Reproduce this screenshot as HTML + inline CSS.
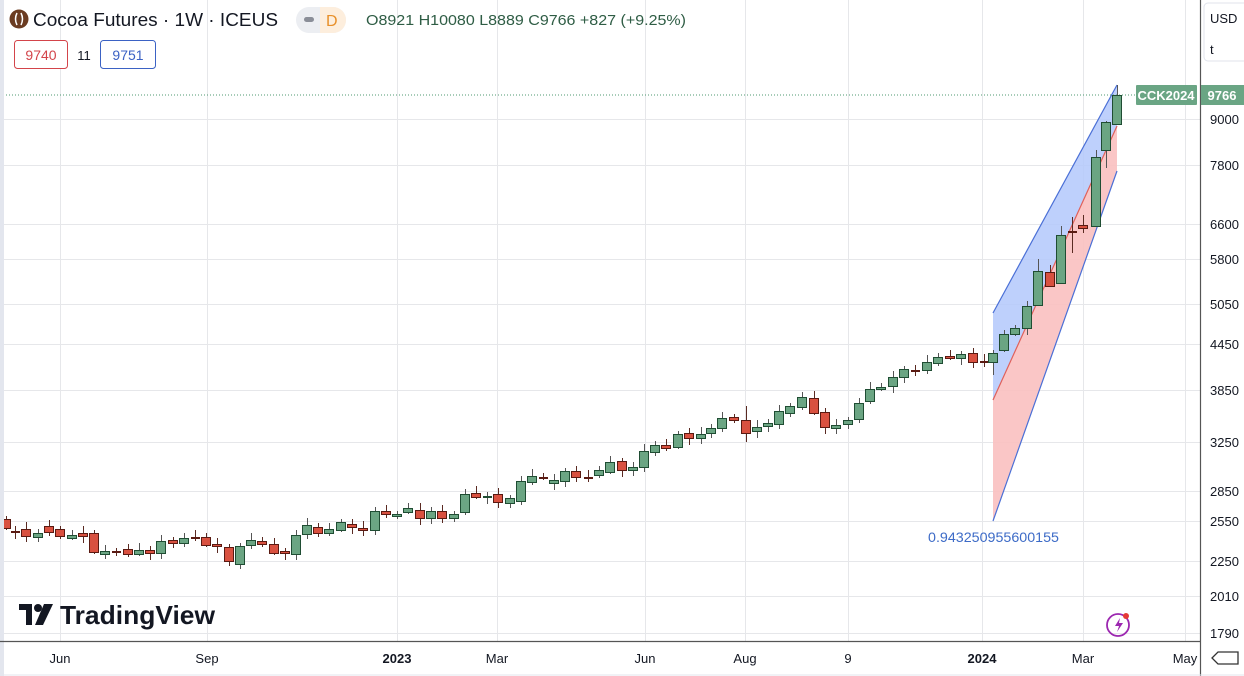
<!DOCTYPE html>
<html><head><meta charset="utf-8"><style>
html,body{margin:0;padding:0;background:#fff;}
body{width:1244px;height:676px;overflow:hidden;position:relative;font-family:"Liberation Sans",sans-serif;}
</style></head><body>
<svg id="s" width="1244" height="676" xmlns="http://www.w3.org/2000/svg" style="position:absolute;left:0;top:0">
<rect width="1244" height="676" fill="#fff"/>
<g id="grid" stroke="#e6e7ea" stroke-width="1"></g>
<polygon points="993,313 1117,85 1117,126 993,400" fill="#b3c8fb" opacity="0.85"/>
<polygon points="993,400 1117,126 1117,171 993,521" fill="#f9c0c0" opacity="0.9"/>
<line x1="993" y1="313" x2="1117" y2="85" stroke="#4a6fd6" stroke-width="1.2"/>
<line x1="993" y1="400" x2="1117" y2="126" stroke="#e0605a" stroke-width="1.2"/>
<line x1="993" y1="521" x2="1117" y2="171" stroke="#4a6fd6" stroke-width="1.2"/>
<line x1="0" y1="95" x2="1136" y2="95" stroke="#4f9a72" stroke-width="1" stroke-dasharray="1,2"/>
<g id="c"></g>
<text x="928" y="542" font-size="14" fill="#3d6bc7" textLength="131" lengthAdjust="spacingAndGlyphs">0.943250955600155</text>
<rect x="0" y="0" width="4" height="676" fill="#e3e6ee"/>
<line x1="0" y1="641.5" x2="1200" y2="641.5" stroke="#555" stroke-width="1.2"/>
<line x1="1200.5" y1="0" x2="1200.5" y2="676" stroke="#555" stroke-width="1.2"/>
<line x1="0" y1="675" x2="1244" y2="675" stroke="#e3e6ee"/>
<g id="yl" font-size="13" fill="#131722"></g>
<g font-size="13" fill="#131722" text-anchor="middle">
<text x="60" y="663">Jun</text><text x="207" y="663">Sep</text>
<text x="397" y="663" font-weight="bold">2023</text><text x="497" y="663">Mar</text>
<text x="645" y="663">Jun</text><text x="745" y="663">Aug</text>
<text x="848" y="663">9</text><text x="982" y="663" font-weight="bold">2024</text>
<text x="1083" y="663">Mar</text><text x="1185" y="663">May</text>
</g>
<rect x="1136" y="85" width="61" height="20" fill="#6aa584" rx="1"/>
<text x="1166" y="100" font-size="13" fill="#fff" font-weight="bold" text-anchor="middle">CCK2024</text>
<rect x="1201" y="85" width="43" height="20" fill="#6aa584"/>
<text x="1222" y="100" font-size="13" fill="#fff" font-weight="bold" text-anchor="middle">9766</text>
<rect x="1204" y="3" width="44" height="58" rx="4" fill="#fff" stroke="#e0e3eb"/>
<text x="1210" y="23" font-size="13" fill="#131722">USD</text>
<text x="1210" y="54" font-size="13" fill="#131722">t</text>
<path d="M1212 658 l6 -6 h20 v12 h-20 z" fill="none" stroke="#333" stroke-width="1.3"/>
<circle cx="19" cy="19" r="9.5" fill="#6b3c22"/>
<path d="M17 13 q-3 6 0 12 M21 13 q3 6 0 12" stroke="#fff" stroke-width="1.5" fill="none"/>
<text x="33" y="26" font-size="18" fill="#131722" textLength="245" lengthAdjust="spacingAndGlyphs">Cocoa Futures · 1W · ICEUS</text>
<rect x="296" y="7" width="50" height="26" rx="13" fill="#eceef2"/>
<rect x="304" y="17" width="10" height="5" rx="2.5" fill="#8a8e98"/>
<path d="M320 7 h13 a13 13 0 0 1 0 26 h-13 z" fill="#fdeedd"/>
<text x="326" y="26" font-size="16" fill="#e8902a">D</text>
<text x="366" y="25" font-size="15" fill="#2f5d45" textLength="320" lengthAdjust="spacingAndGlyphs">O8921 H10080 L8889 C9766 +827 (+9.25%)</text>
<rect x="14.5" y="40.5" width="53" height="28" rx="3" fill="#fff" stroke="#d3444a"/>
<text x="41" y="60" font-size="14" fill="#d3444a" text-anchor="middle">9740</text>
<text x="84" y="60" font-size="13" fill="#131722" text-anchor="middle">11</text>
<rect x="100.5" y="40.5" width="55" height="28" rx="3" fill="#fff" stroke="#3b62c4"/>
<text x="128" y="60" font-size="14" fill="#3b62c4" text-anchor="middle">9751</text>
<g fill="#131722">
<path d="M19 604 h13 v21 h-6 v-15 h-7 z"/><circle cx="38" cy="608" r="4"/><path d="M44 604 h9 l-10 21 h-8 z"/>
<text x="60" y="624" font-size="26" font-weight="bold" textLength="155" lengthAdjust="spacingAndGlyphs">TradingView</text>
</g>
<circle cx="1118" cy="625" r="11" fill="none" stroke="#9c27b0" stroke-width="1.8"/>
<path d="M1120 618 l-5 8 h4 l-2 6 l6 -9 h-4 z" fill="#9c27b0"/>
<circle cx="1126" cy="616" r="3" fill="#e53935"/>
</svg>
<script>
var NS="http://www.w3.org/2000/svg";
function el(p,t,a){var e=document.createElementNS(NS,t);for(var k in a)e.setAttribute(k,a[k]);p.appendChild(e);return e;}
var grid=document.getElementById('grid'),yl=document.getElementById('yl');
var ys=[[9000,119],[7800,165],[6600,224],[5800,259],[5050,304],[4450,344],[3850,390],[3250,442],[2850,491],[2550,521],[2250,561],[2010,596],[1790,633]];
ys.forEach(function(v){el(grid,'line',{x1:4,x2:1200,y1:v[1]+.5,y2:v[1]+.5});var t=el(yl,'text',{x:1210,y:v[1]+5});t.textContent=v[0];});
[60,207,397,497,645,745,848,982,1083,1185].forEach(function(x){el(grid,'line',{x1:x+.5,x2:x+.5,y1:0,y2:641});});
var d=[[6,519,528],[15,531,532],[26,529,536],[38,537,533],[49,526,532],[60,529,536],[72,538,535],[83,533,536],[94,533,552],[105,554,551],[116,551,552],[128,549,554],[139,554,550],[150,550,553],[161,553,541],[173,540,543],[184,543,538],[195,537,538],[206,537,545],[217,544,546],[229,547,561],[240,564,546],[251,545,540],[262,541,544],[274,544,553],[285,551,553],[296,554,535],[307,534,525],[318,527,533],[329,533,529],[341,530,522],[352,524,527],[363,528,530],[375,530,511],[386,511,514],[397,516,514],[408,512,508],[420,510,518],[431,518,511],[442,511,518],[454,518,514],[465,512,494],[476,493,497],[487,497,496],[498,494,502],[510,503,498],[521,501,481],[532,482,476],[543,477,478],[554,483,480],[565,481,471],[576,471,477],[588,477,478],[599,475,470],[610,472,462],[622,461,470],[633,470,467],[644,467,451],[655,452,445],[666,445,448],[678,447,434],[689,433,438],[701,438,434],[711,433,428],[722,428,418],[734,417,420],[746,420,433],[757,431,427],[768,426,423],[779,424,411],[790,413,406],[802,407,397],[814,398,413],[825,412,427],[836,428,425],[848,424,420],[859,419,403],[870,401,389],[881,389,387],[893,386,377],[904,377,369],[915,370,371],[927,370,362],[938,363,357],[950,356,358],[961,358,354],[973,353,362],[984,361,362],[993,362,353],[1004,350,334],[1015,334,328],[1027,328,306],[1038,305,271],[1050,272,286],[1061,283,235],[1072,231,232],[1083,225,228],[1096,226,157],[1106,150,122],[1117,124,95]];
var wk={993:[350,375],1004:[330,352],1038:[259,306],1050:[265,287],1061:[226,284],1072:[217,253],1083:[215,233],1096:[150,227],1106:[121,168],1117:[85,125],746:[406,442],229:[544,566],240:[543,569],94:[530,554]};
var g=document.getElementById('c');
d.forEach(function(c,i){var x=c[0],o=c[1],cl=c[2];var up=cl<=o;var top=Math.min(o,cl),bot=Math.max(o,cl);
var w=wk[x]||[top-3-(i*7%5),bot+2+(i*5%6)];
var col=up?'#1f4d33':'#5a1a12';
el(g,'line',{x1:x+.5,x2:x+.5,y1:w[0],y2:w[1],stroke:up?'#555':'#5a2a22','stroke-width':1});
if(bot-top<2){el(g,'rect',{x:x-4,y:top,width:9,height:2,fill:col});}
else el(g,'rect',{x:x-4.5,y:top+.5,width:9,height:bot-top,fill:up?'#6ba583':'#d95140',stroke:col,'stroke-width':1});});
</script>
</body></html>
